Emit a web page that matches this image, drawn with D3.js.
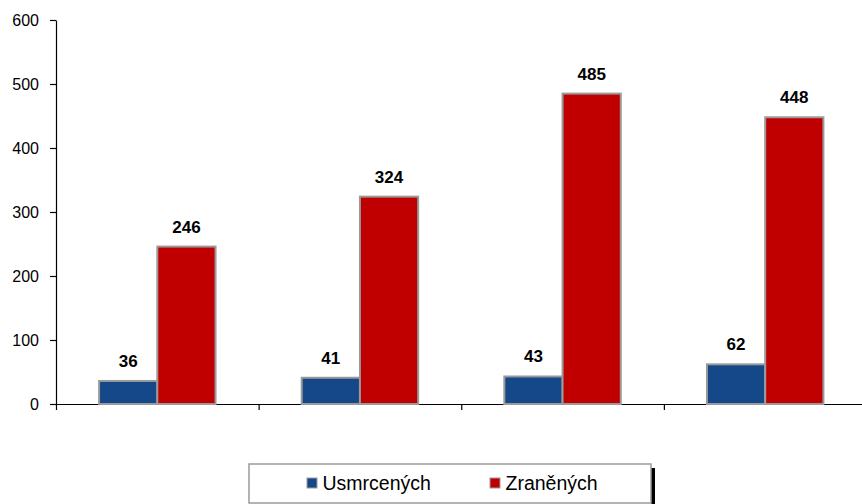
<!DOCTYPE html>
<html>
<head>
<meta charset="utf-8" />
<title>Usmrcených a zraněných</title>
<style>
    body { margin: 0; background: #fff; font-family: Arial, "Liberation Sans", sans-serif; }
    svg text { font-family: Arial, "Liberation Sans", sans-serif; }
</style>
</head>
<body>
<svg></svg>
<script src="https://d3js.org/d3.v7.min.js"></script>
<script>
    // data (x categories have no labels)
    const categories = ["1", "2", "3", "4"];
    const seriesNames = ["Usmrcených", "Zraněných"];
    const killed = [36, 41, 43, 62];
    const injured = [246, 324, 485, 448];
    const yTicks = [0, 100, 200, 300, 400, 500, 600];
    const colors = ["#154888", "#c00000"];

    const width = 862, height = 504;
    const margin = { left: 56, right: -4.5, top: 20, bottom: 100 };

    const svg = d3.select("svg").attr("width", width).attr("height", height);

    const x = d3.scaleBand()
        .domain(categories)
        .range([margin.left, width - margin.right])
        .paddingInner(0).paddingOuter(0);

    const xInner = d3.scaleBand()
        .domain(seriesNames)
        .range([0, x.bandwidth()])
        .paddingOuter(0.74).paddingInner(0);

    const y = d3.scaleLinear()
        .domain([0, 600])
        .range([height - margin.bottom, margin.top]);

    // y axis
    const yAxis = svg.append("g")
        .attr("transform", "translate(" + margin.left + ",0)")
        .call(d3.axisLeft(y).tickValues(yTicks).tickSize(6).tickSizeOuter(0).tickPadding(11));
    yAxis.selectAll("text").style("font-size", "16px").attr("fill", "#000");
    yAxis.selectAll("line, path").attr("stroke", "#000").attr("stroke-width", 1.2);

    // x axis, ticks at band boundaries
    const xEdge = d3.scaleLinear().domain([0, categories.length]).range(x.range());
    const xAxis = svg.append("g")
        .attr("transform", "translate(0," + y(0) + ")")
        .call(d3.axisBottom(xEdge).ticks(categories.length).tickFormat("").tickSize(6).tickSizeOuter(0));
    xAxis.selectAll("line, path").attr("stroke", "#000").attr("stroke-width", 1.2);

    const rows = categories.map((c, i) => ({ cat: c, values: [killed[i], injured[i]] }));

    const groups = svg.append("g").selectAll("g")
        .data(rows)
        .enter().append("g")
        .attr("transform", d => "translate(" + x(d.cat) + ",0)");

    groups.selectAll("rect")
        .data(d => d.values.map((v, j) => ({ name: seriesNames[j], v: v, j: j })))
        .enter().append("rect")
        .attr("x", d => xInner(d.name))
        .attr("y", d => y(d.v))
        .attr("width", xInner.bandwidth())
        .attr("height", d => y(0) - y(d.v))
        .attr("fill", d => colors[d.j])
        .attr("stroke", "#9a9a9a")
        .attr("stroke-width", 2);

    groups.selectAll("text.val")
        .data(d => d.values.map((v, j) => ({ name: seriesNames[j], v: v })))
        .enter().append("text")
        .attr("class", "val")
        .attr("x", d => xInner(d.name) + xInner.bandwidth() / 2)
        .attr("y", d => y(d.v) - 14)
        .attr("text-anchor", "middle")
        .style("font-size", "17px")
        .style("font-weight", "bold")
        .text(d => d.v);

    // legend
    const legend = svg.append("g").attr("transform", "translate(249,464)");
    legend.append("rect")
        .attr("x", 402).attr("y", 4)
        .attr("width", 4).attr("height", 36)
        .attr("fill", "#000");
    legend.append("rect")
        .attr("width", 402).attr("height", 39)
        .attr("fill", "#fff")
        .attr("stroke", "#9a9a9a")
        .attr("stroke-width", 1.5);
    const legendX = [58, 241];
    seriesNames.forEach((name, i) => {
        legend.append("rect")
            .attr("x", legendX[i]).attr("y", 14)
            .attr("width", 10).attr("height", 10)
            .attr("fill", colors[i])
            .attr("stroke", "#9a9a9a").attr("stroke-width", 1);
        legend.append("text")
            .attr("x", legendX[i] + 15.5).attr("y", 26)
            .style("font-size", "19.5px")
            .text(name);
    });
</script>
</body>
</html>
